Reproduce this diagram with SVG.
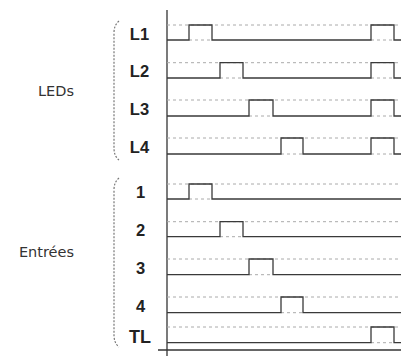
<svg xmlns="http://www.w3.org/2000/svg" width="401" height="356" viewBox="0 0 401 356">
<style>
.sig{fill:none;stroke:#3a3a3a;stroke-width:1.3}
.ref{fill:none;stroke:#aaaaaa;stroke-width:1;stroke-dasharray:3 3}
.ax{fill:none;stroke:#333;stroke-width:1.3}
.br{fill:none;stroke:#777;stroke-width:1.2;stroke-dasharray:2 1.5}
.lb{font-family:"Liberation Sans",Arial,sans-serif;font-weight:bold;font-size:16.5px;fill:#222;text-anchor:middle}
.gl{font-family:"DejaVu Sans",Verdana,sans-serif;font-size:14.5px;fill:#333;text-anchor:end}
</style>
<rect width="401" height="356" fill="#fff"/>
<g id="connectors">
<path class="ax" d="M167,10 V356"/>
<path class="ax" d="M158,350 H401"/>
</g>
<g id="group-leds">
<path class="br" d="M119,21 Q114,25 114,33 V148 Q114,156 119,160"/>
<text class="gl" x="74" y="96">LEDs</text>
</g>
<g id="group-inputs">
<path class="br" d="M119,178 Q114,182 114,190 V335 Q114,343 119,347"/>
<text class="gl" x="74" y="256.5">Entrées</text>
</g>
<g id="L1">
<text class="lb" x="139.5" y="39.5">L1</text>
<path class="ref" d="M167,25 H401 M189,40 H212 M371,40 H394"/>
<path class="sig" d="M167,40 H189 V25 H212 V40 H371 V25 H394 V40 H401"/>
</g>
<g id="L2">
<text class="lb" x="139.5" y="77.3">L2</text>
<path class="ref" d="M167,62.7 H401 M220,78 H243 M371,78 H394"/>
<path class="sig" d="M167,78 H220 V62.7 H243 V78 H371 V62.7 H394 V78 H401"/>
</g>
<g id="L3">
<text class="lb" x="139.5" y="115">L3</text>
<path class="ref" d="M167,100 H401 M249,116 H273 M371,116 H394"/>
<path class="sig" d="M167,116 H249 V100 H273 V116 H371 V100 H394 V116 H401"/>
</g>
<g id="L4">
<text class="lb" x="139.5" y="152.7">L4</text>
<path class="ref" d="M167,138 H401 M281,154 H303 M371,154 H394"/>
<path class="sig" d="M167,154 H281 V138 H303 V154 H371 V138 H394 V154 H401"/>
</g>
<g id="in1">
<text class="lb" x="140.5" y="198.3">1</text>
<path class="ref" d="M167,184 H401 M189,199 H212"/>
<path class="sig" d="M167,199 H189 V184 H212 V199 H401"/>
</g>
<g id="in2">
<text class="lb" x="140.5" y="236">2</text>
<path class="ref" d="M167,221.7 H401 M220,236.7 H243"/>
<path class="sig" d="M167,236.7 H220 V221.7 H243 V236.7 H401"/>
</g>
<g id="in3">
<text class="lb" x="140.5" y="273.7">3</text>
<path class="ref" d="M167,259 H401 M249,274.7 H273"/>
<path class="sig" d="M167,274.7 H249 V259 H273 V274.7 H401"/>
</g>
<g id="in4">
<text class="lb" x="140.5" y="311.7">4</text>
<path class="ref" d="M167,297 H401 M281,312.7 H303"/>
<path class="sig" d="M167,312.7 H281 V297 H303 V312.7 H401"/>
</g>
<g id="TL">
<text class="lb" x="140" y="342.5" style="font-size:18px">TL</text>
<path class="ref" d="M167,327 H401 M371,342.7 H394"/>
<path class="sig" d="M167,342.7 H371 V327 H394 V342.7 H401"/>
</g>
</svg>
